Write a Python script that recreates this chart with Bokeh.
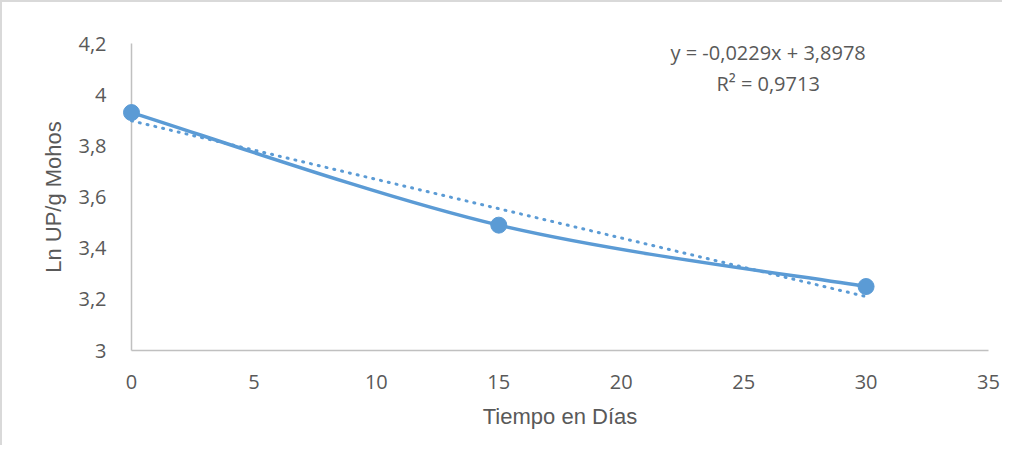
from bokeh.plotting import figure
from bokeh.models import Range1d, CustomJSTickFormatter, FixedTicker, Label, ColumnDataSource
from bokeh.embed import file_html
from bokeh.resources import INLINE

# Data
dias = [0, 15, 30]
ln_up = [3.93, 3.49, 3.25]
slope = -0.0229
intercept = 3.8978
r2 = 0.9713
x_ticks = [0, 5, 10, 15, 20, 25, 30, 35]
y_ticks = [3.0, 3.2, 3.4, 3.6, 3.8, 4.0, 4.2]
eq_text = "y = -0,0229x + 3,8978"
r2_text = "R² = 0,9713"

BLUE = "#5B9BD5"
GREY = "#595959"
TICK_FONT = "Open Sans"
TITLE_FONT = "Liberation Sans"

p = figure(width=1002, height=445, output_backend="svg", toolbar_location=None,
           x_range=Range1d(0, 35), y_range=Range1d(3.0, 4.2),
           min_border_left=129, min_border_right=16, min_border_top=41, min_border_bottom=97)
p.styles = {"border-top": "2px solid #d9d9d9", "border-left": "2px solid #d9d9d9"}
p.outline_line_color = None
p.xgrid.visible = False
p.ygrid.visible = False
p.background_fill_color = "white"
p.border_fill_color = "white"

fmt = CustomJSTickFormatter(code="return (Math.round(tick*10)/10).toString().replace('.', ',');")
for ax in (p.xaxis, p.yaxis):
    ax.major_tick_line_color = None
    ax.minor_tick_line_color = None
    ax.axis_line_color = "#c0c0c0"
    ax.axis_line_width = 1.5
    ax.major_label_text_font = TICK_FONT
    ax.major_label_text_font_size = "20px"
    ax.major_label_text_color = GREY
    ax.axis_label_text_font = TITLE_FONT
    ax.axis_label_text_font_size = "22px"
    ax.axis_label_text_font_style = "normal"
    ax.axis_label_text_color = GREY
    ax.formatter = fmt
p.xaxis.ticker = FixedTicker(ticks=x_ticks)
p.yaxis.ticker = FixedTicker(ticks=y_ticks)
p.xaxis.major_label_standoff = 18
p.yaxis.major_label_standoff = 19
p.xaxis.axis_label = "Tiempo en Días"
p.yaxis.axis_label = "Ln UP/g Mohos"
p.xaxis.axis_label_standoff = 12
p.yaxis.axis_label_standoff = 9

# Trend line (linear fit), dotted
tx = [dias[0], dias[-1]]
ty = [intercept + slope * x for x in tx]
p.line(tx, ty, line_color=BLUE, line_width=3, line_dash="1 7", line_cap="round", level="overlay")

# Smoothed series line (Catmull-Rom style bezier segments, as in spreadsheet smoothing)
n = len(dias)
x0, y0, x1, y1, cx0, cy0, cx1, cy1 = [], [], [], [], [], [], [], []
for i in range(n - 1):
    pm = i - 1 if i > 0 else i
    pp = i + 2 if i + 2 < n else i + 1
    x0.append(dias[i]); y0.append(ln_up[i])
    x1.append(dias[i + 1]); y1.append(ln_up[i + 1])
    cx0.append(dias[i] + (dias[i + 1] - dias[pm]) / 6)
    cy0.append(ln_up[i] + (ln_up[i + 1] - ln_up[pm]) / 6)
    cx1.append(dias[i + 1] - (dias[pp] - dias[i]) / 6)
    cy1.append(ln_up[i + 1] - (ln_up[pp] - ln_up[i]) / 6)
src = ColumnDataSource(dict(x0=x0, y0=y0, x1=x1, y1=y1, cx0=cx0, cy0=cy0, cx1=cx1, cy1=cy1))
p.bezier(x0="x0", y0="y0", x1="x1", y1="y1", cx0="cx0", cy0="cy0", cx1="cx1", cy1="cy1",
         source=src, line_color=BLUE, line_width=3.5, level="overlay")

p.scatter(dias, ln_up, size=16, color=BLUE, level="overlay")

# Equation labels
p.add_layout(Label(x=26.0, y=4.165, text=eq_text, text_align="center", text_baseline="middle",
                   text_font=TICK_FONT, text_font_size="20px", text_color=GREY))
p.add_layout(Label(x=26.0, y=4.044, text=r2_text, text_align="center", text_baseline="middle",
                   text_font=TICK_FONT, text_font_size="20px", text_color=GREY))

open("out.html", "w").write(file_html(p, INLINE))
